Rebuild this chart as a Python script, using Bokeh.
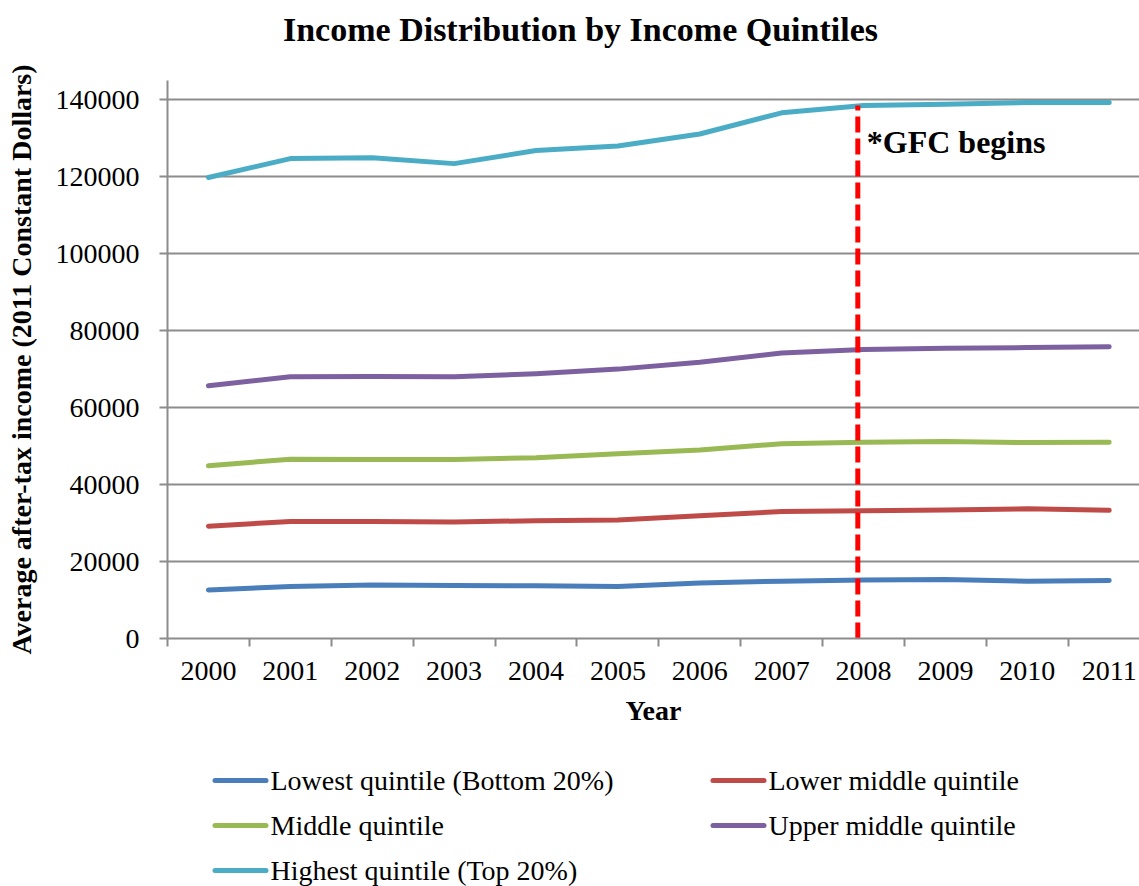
from bokeh.plotting import figure
from bokeh.layouts import column
from bokeh.models import FixedTicker, BasicTickFormatter, Range1d, Label
from bokeh.core.properties import value
from bokeh.embed import file_html
from bokeh.resources import INLINE

# Average after-tax income by quintile, 2011 constant dollars
years = ["2000", "2001", "2002", "2003", "2004", "2005",
         "2006", "2007", "2008", "2009", "2010", "2011"]
lowest = [12600, 13500, 13900, 13800, 13700, 13500,
          14400, 14900, 15200, 15300, 14900, 15100]
lower_middle = [29200, 30400, 30400, 30300, 30600, 30800,
                31900, 33000, 33200, 33400, 33700, 33300]
middle = [44900, 46600, 46500, 46500, 47000, 48000,
          49000, 50600, 51000, 51200, 50900, 51000]
upper_middle = [65700, 68000, 68100, 68000, 68800, 70000,
                71800, 74200, 75100, 75400, 75600, 75800]
highest = [119800, 124700, 124900, 123400, 126800, 128000,
           131100, 136600, 138500, 138800, 139300, 139300]

series_names = ["Lowest quintile (Bottom 20%)", "Lower middle quintile",
                "Middle quintile", "Upper middle quintile",
                "Highest quintile (Top 20%)"]
series_values = [lowest, lower_middle, middle, upper_middle, highest]
series_colors = ["#4A7EBB", "#BE4B48", "#98B954", "#7D60A0", "#4BACC6"]

y_ticks = [0, 20000, 40000, 60000, 80000, 100000, 120000, 140000]
gfc_year = "2008"
title_text = "Income Distribution by Income Quintiles"

FONT = "Liberation Serif"
GRID = "#8C8C8C"
W = 1139
PLOT_LEFT = 167                     # left edge of the plotting area
TITLE_H, MAIN_H, LEGEND_H = 60, 685, 141

xs = list(range(len(years)))


def blank_strip(height):
    """An axis-free figure whose data units are page pixels (y counted upward)."""
    f = figure(width=W, height=height, output_backend="svg", toolbar_location=None,
               x_range=Range1d(PLOT_LEFT, W), y_range=Range1d(0, height),
               x_axis_type=None, y_axis_type=None,
               min_border=0, min_border_left=PLOT_LEFT, min_border_right=0,
               min_border_top=0, min_border_bottom=0)
    f.outline_line_color = None
    f.grid.visible = False
    f.background_fill_color = "white"
    f.border_fill_color = "white"
    return f


# --- title strip ---
head = blank_strip(TITLE_H)
head.text(x=[580], y=[TITLE_H - 29], text=[title_text], text_align="center",
          text_baseline="middle", text_font=value(FONT), text_font_size="34px",
          text_font_style="bold", text_color="black")

# --- main chart ---
p = figure(width=W, height=MAIN_H, output_backend="svg", toolbar_location=None,
           x_range=Range1d(-0.5, 11.37), y_range=Range1d(0, 145000),
           min_border_left=PLOT_LEFT, min_border_right=0, min_border_top=20,
           min_border_bottom=107)
p.outline_line_color = None
p.background_fill_color = "white"
p.border_fill_color = "white"

# category axis: labels at the centres, tick marks between categories
p.xaxis.ticker = FixedTicker(ticks=xs, minor_ticks=[i - 0.5 for i in range(len(years) + 1)])
p.xaxis.major_label_overrides = {i: y for i, y in enumerate(years)}
p.xaxis.major_tick_out = 0
p.xaxis.major_tick_in = 0
p.xaxis.minor_tick_out = 8
p.xaxis.minor_tick_in = 0
p.xaxis.minor_tick_line_color = GRID
p.xaxis.minor_tick_line_width = 2
p.xaxis.axis_label = "Year"
p.xaxis.major_label_standoff = 15
p.xaxis.axis_label_standoff = 12

p.yaxis.ticker = FixedTicker(ticks=y_ticks, minor_ticks=[])
p.yaxis.formatter = BasicTickFormatter(use_scientific=False)
p.yaxis.major_tick_out = 8
p.yaxis.major_tick_in = 0
p.yaxis.major_label_standoff = 20
p.yaxis.axis_label = "Average after-tax income (2011 Constant Dollars)"
p.yaxis.axis_label_standoff = 16

for ax in (p.xaxis, p.yaxis):
    ax.axis_line_color = GRID
    ax.axis_line_width = 2
    ax.major_tick_line_color = GRID
    ax.major_tick_line_width = 2
    ax.major_label_text_font = FONT
    ax.major_label_text_font_size = "28px"
    ax.major_label_text_color = "black"
    ax.axis_label_text_font = FONT
    ax.axis_label_text_font_size = "28px"
    ax.axis_label_text_font_style = "bold"
    ax.axis_label_text_color = "black"

p.xgrid.visible = False
p.ygrid.ticker = FixedTicker(ticks=y_ticks[1:])
p.ygrid.grid_line_color = GRID
p.ygrid.grid_line_width = 2

for vals, col in zip(series_values, series_colors):
    p.line(xs, vals, line_color=col, line_width=5,
           line_join="round", line_cap="round")

# marker for the start of the global financial crisis
gfc_i = years.index(gfc_year)
gfc_x = gfc_i - 0.07
p.segment(x0=[gfc_x], y0=[0], x1=[gfc_x], y1=[highest[gfc_i]],
          line_color="#FF0000", line_width=5, line_dash="16 6")
p.add_layout(Label(x=gfc_x, y=highest[gfc_i], x_offset=9, y_offset=-54,
                   text="*GFC begins", text_font=FONT, text_font_size="32px",
                   text_font_style="bold", text_color="black"))

# --- legend strip: two columns, entries filled row by row ---
foot = blank_strip(LEGEND_H)
col_left = [212, 710]     # swatch start of each legend column
swatch_w = 56
first_row, row_pitch = 106, 45

sx0, sx1, ty, tx = [], [], [], []
for i in range(len(series_names)):
    c, r = i % 2, i // 2
    sx0.append(col_left[c] + 2.5)
    sx1.append(col_left[c] + swatch_w - 2.5)
    tx.append(col_left[c] + swatch_w + 2)
    ty.append(first_row - r * row_pitch)

foot.segment(x0=sx0, y0=ty, x1=sx1, y1=ty, line_color=series_colors,
             line_width=5, line_cap="round")
foot.text(x=tx, y=ty, text=series_names, text_align="left", text_baseline="middle",
          text_font=value(FONT), text_font_size="28px", text_color="black")

layout = column(head, p, foot, spacing=0)

open("out.html", "w").write(file_html(layout, INLINE))
